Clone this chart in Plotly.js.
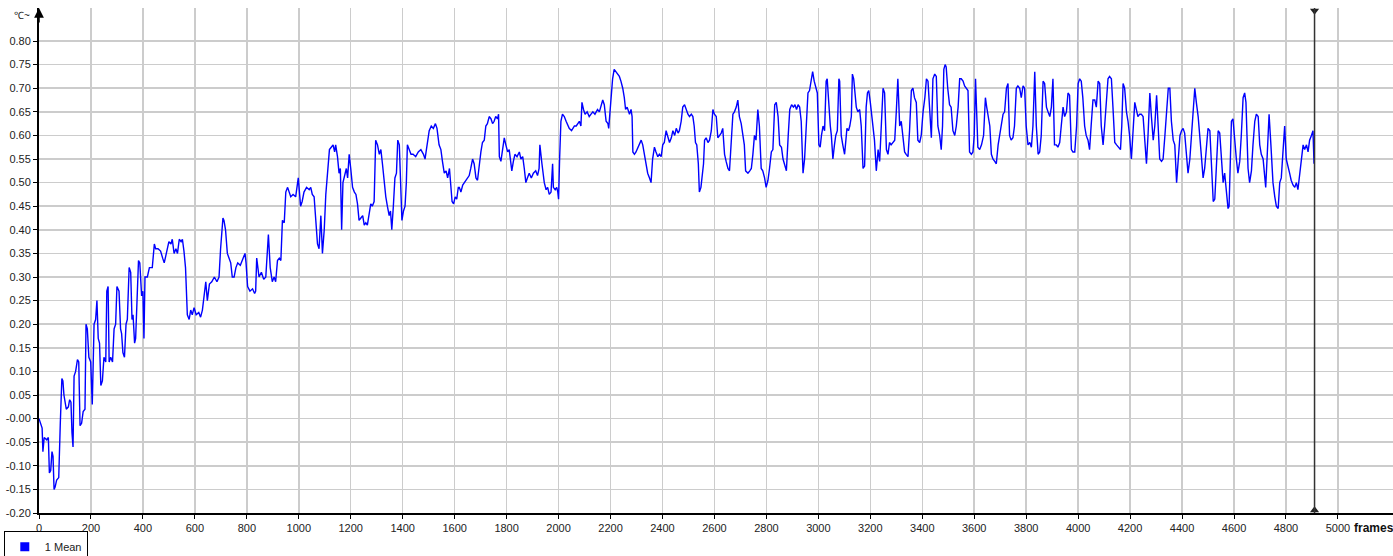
<!DOCTYPE html>
<html>
<head>
<meta charset="utf-8">
<script src="https://cdn.plot.ly/plotly-3.0.1.min.js"></script>
<style>html,body{margin:0;padding:0;background:#fff;}#chart{width:1393px;height:556px;}</style>
</head>
<body>
<div id="chart"></div>
<script>
// Frames (x) and mean temperature (°C)
const frames = [0,6,12,15,20,30,36,40,45,50,54,58,62,68,76,82,88,92,96,105,113,118,123,127,131,135,141,148,153,158,164,170,177,181,186,192,199,205,212,218,223,228,233,238,244,250,257,261,266,270,276,283,289,295,300,308,314,318,323,329,335,340,347,353,358,362,368,372,378,383,388,395,400,404,408,417,425,436,444,449,458,468,476,482,488,500,508,513,520,527,533,540,547,552,558,564,571,578,584,590,597,605,615,622,629,636,642,648,656,665,675,685,693,699,708,712,718,725,731,738,744,751,758,765,775,785,793,797,803,812,822,830,834,838,847,856,865,873,883,890,898,905,911,918,925,931,937,944,950,957,963,969,978,988,998,1003,1007,1013,1020,1030,1040,1046,1052,1059,1066,1072,1078,1085,1091,1098,1104,1111,1118,1125,1132,1138,1142,1149,1155,1160,1165,1170,1177,1183,1188,1194,1200,1207,1214,1220,1226,1232,1239,1246,1252,1258,1264,1271,1277,1283,1290,1296,1303,1310,1316,1322,1329,1335,1341,1348,1353,1358,1364,1370,1376,1381,1387,1392,1397,1403,1409,1414,1418,1425,1432,1440,1450,1460,1470,1480,1486,1490,1496,1502,1510,1518,1526,1532,1540,1547,1553,1560,1567,1573,1580,1585,1590,1596,1602,1608,1614,1618,1624,1631,1637,1645,1650,1656,1662,1669,1675,1682,1688,1695,1701,1707,1714,1720,1726,1733,1740,1746,1752,1758,1765,1769,1772,1778,1784,1791,1797,1804,1810,1815,1820,1826,1832,1840,1849,1855,1862,1868,1874,1880,1887,1895,1903,1912,1919,1925,1928,1936,1945,1952,1958,1964,1971,1977,1980,1987,1993,1997,2000,2004,2009,2015,2022,2029,2035,2041,2050,2061,2068,2074,2080,2086,2090,2096,2102,2110,2118,2125,2132,2140,2150,2157,2163,2170,2176,2183,2190,2193,2198,2202,2208,2214,2220,2226,2234,2240,2247,2253,2258,2264,2273,2279,2283,2286,2292,2298,2305,2311,2318,2324,2330,2337,2343,2350,2356,2362,2369,2375,2382,2388,2395,2401,2407,2414,2420,2427,2434,2440,2447,2453,2460,2465,2472,2478,2485,2491,2498,2504,2511,2517,2522,2527,2532,2538,2542,2548,2553,2558,2562,2568,2575,2581,2588,2594,2600,2607,2613,2620,2626,2632,2639,2645,2652,2658,2665,2671,2677,2684,2690,2696,2703,2709,2715,2720,2729,2736,2742,2748,2754,2760,2767,2773,2780,2786,2793,2799,2806,2812,2819,2825,2832,2838,2845,2851,2858,2864,2870,2877,2884,2890,2897,2904,2910,2916,2922,2928,2934,2941,2947,2953,2960,2966,2972,2978,2984,2990,2996,3002,3007,3012,3018,3024,3030,3034,3040,3046,3050,3056,3062,3067,3073,3079,3082,3088,3094,3101,3106,3110,3116,3121,3127,3131,3136,3142,3146,3152,3159,3165,3172,3178,3184,3189,3194,3200,3206,3210,3216,3223,3230,3236,3243,3249,3255,3262,3268,3274,3280,3287,3294,3300,3306,3313,3319,3325,3332,3338,3345,3351,3358,3364,3370,3377,3383,3390,3396,3403,3410,3416,3422,3428,3435,3441,3448,3454,3460,3467,3473,3478,3483,3488,3492,3498,3505,3511,3518,3525,3531,3538,3544,3550,3557,3563,3569,3576,3582,3589,3595,3600,3605,3610,3614,3621,3628,3636,3643,3648,3653,3660,3666,3672,3679,3685,3692,3698,3704,3711,3717,3724,3730,3736,3742,3749,3755,3762,3768,3775,3781,3788,3794,3800,3807,3814,3820,3826,3833,3839,3846,3852,3858,3865,3871,3878,3884,3891,3897,3903,3909,3916,3922,3929,3935,3942,3948,3955,3961,3967,3974,3980,3987,3994,4000,4006,4012,4018,4025,4031,4038,4044,4050,4057,4064,4070,4077,4083,4089,4096,4102,4108,4115,4121,4128,4134,4141,4148,4154,4163,4168,4173,4179,4186,4192,4198,4205,4211,4218,4224,4230,4237,4243,4250,4256,4263,4269,4276,4282,4289,4295,4302,4308,4314,4321,4327,4334,4340,4347,4353,4359,4366,4372,4379,4385,4392,4398,4404,4410,4417,4423,4430,4436,4442,4449,4455,4462,4468,4474,4481,4487,4494,4500,4507,4513,4520,4526,4532,4539,4545,4552,4558,4564,4570,4577,4581,4586,4590,4596,4603,4609,4615,4622,4628,4635,4641,4646,4650,4654,4660,4667,4673,4680,4686,4693,4699,4705,4712,4718,4722,4728,4735,4742,4750,4757,4763,4770,4776,4782,4788,4795,4801,4808,4814,4820,4827,4834,4840,4846,4853,4859,4866,4872,4879,4885,4891,4898,4904,4908];
const meanTemp = [0.00,-0.01,-0.02,-0.07,-0.04,-0.045,-0.04,-0.115,-0.11,-0.07,-0.08,-0.15,-0.145,-0.13,-0.125,-0.01,0.085,0.08,0.05,0.02,0.025,0.04,0.035,-0.03,-0.06,0.09,0.10,0.125,0.12,-0.015,-0.01,0.015,0.02,0.20,0.19,0.13,0.12,0.03,0.20,0.21,0.25,0.17,0.16,0.07,0.08,0.13,0.12,0.27,0.28,0.12,0.13,0.12,0.19,0.20,0.28,0.27,0.19,0.18,0.14,0.13,0.20,0.21,0.32,0.31,0.21,0.22,0.16,0.17,0.25,0.335,0.33,0.26,0.27,0.17,0.30,0.30,0.32,0.32,0.37,0.36,0.36,0.355,0.34,0.33,0.345,0.375,0.37,0.38,0.35,0.36,0.35,0.38,0.375,0.38,0.355,0.32,0.22,0.21,0.23,0.22,0.235,0.22,0.225,0.215,0.23,0.26,0.29,0.25,0.285,0.29,0.30,0.29,0.30,0.36,0.425,0.42,0.40,0.35,0.34,0.33,0.30,0.30,0.32,0.33,0.325,0.34,0.35,0.33,0.28,0.27,0.275,0.265,0.27,0.34,0.30,0.31,0.295,0.30,0.39,0.32,0.29,0.30,0.29,0.335,0.34,0.335,0.42,0.415,0.48,0.49,0.48,0.47,0.475,0.47,0.51,0.48,0.45,0.46,0.48,0.49,0.485,0.49,0.475,0.47,0.41,0.37,0.36,0.43,0.35,0.40,0.475,0.53,0.57,0.575,0.58,0.565,0.58,0.555,0.52,0.53,0.40,0.50,0.52,0.53,0.51,0.56,0.53,0.49,0.48,0.475,0.455,0.42,0.425,0.43,0.41,0.415,0.41,0.44,0.455,0.45,0.46,0.59,0.58,0.56,0.57,0.54,0.50,0.47,0.45,0.43,0.44,0.40,0.45,0.51,0.52,0.59,0.58,0.49,0.42,0.44,0.45,0.50,0.58,0.57,0.56,0.56,0.555,0.565,0.57,0.56,0.55,0.565,0.59,0.61,0.62,0.615,0.625,0.615,0.58,0.57,0.545,0.52,0.525,0.51,0.53,0.50,0.46,0.455,0.47,0.465,0.49,0.49,0.48,0.495,0.50,0.505,0.51,0.515,0.53,0.55,0.54,0.51,0.505,0.54,0.565,0.585,0.59,0.62,0.625,0.64,0.635,0.625,0.63,0.64,0.635,0.645,0.555,0.545,0.57,0.595,0.58,0.565,0.57,0.55,0.525,0.545,0.56,0.555,0.565,0.55,0.555,0.53,0.50,0.51,0.52,0.51,0.52,0.525,0.515,0.53,0.58,0.54,0.50,0.485,0.49,0.475,0.48,0.54,0.49,0.485,0.49,0.48,0.465,0.55,0.63,0.645,0.64,0.63,0.62,0.615,0.61,0.62,0.62,0.625,0.63,0.62,0.67,0.655,0.645,0.65,0.64,0.645,0.65,0.645,0.655,0.65,0.66,0.675,0.665,0.63,0.625,0.615,0.65,0.68,0.72,0.74,0.735,0.73,0.725,0.715,0.70,0.68,0.655,0.66,0.645,0.655,0.64,0.565,0.56,0.565,0.575,0.58,0.59,0.58,0.56,0.545,0.52,0.51,0.50,0.55,0.575,0.565,0.555,0.56,0.555,0.58,0.585,0.61,0.60,0.585,0.595,0.61,0.60,0.615,0.605,0.61,0.63,0.66,0.665,0.655,0.645,0.64,0.645,0.64,0.62,0.585,0.58,0.54,0.48,0.49,0.51,0.54,0.59,0.595,0.585,0.59,0.61,0.655,0.645,0.64,0.595,0.60,0.605,0.615,0.56,0.545,0.53,0.525,0.58,0.645,0.65,0.66,0.675,0.64,0.625,0.60,0.58,0.525,0.52,0.525,0.53,0.56,0.60,0.59,0.655,0.62,0.53,0.525,0.51,0.49,0.505,0.53,0.565,0.57,0.665,0.67,0.64,0.58,0.575,0.55,0.54,0.525,0.60,0.655,0.665,0.66,0.665,0.655,0.665,0.66,0.63,0.52,0.55,0.61,0.69,0.695,0.72,0.735,0.715,0.70,0.69,0.58,0.575,0.60,0.62,0.61,0.715,0.72,0.66,0.62,0.60,0.55,0.58,0.60,0.61,0.72,0.715,0.60,0.58,0.56,0.59,0.615,0.61,0.62,0.64,0.73,0.72,0.68,0.66,0.65,0.655,0.62,0.53,0.535,0.66,0.69,0.695,0.67,0.64,0.61,0.59,0.525,0.57,0.545,0.62,0.70,0.69,0.57,0.56,0.585,0.58,0.585,0.59,0.65,0.72,0.62,0.63,0.60,0.565,0.56,0.555,0.61,0.695,0.70,0.68,0.67,0.59,0.585,0.60,0.65,0.68,0.72,0.715,0.66,0.595,0.72,0.73,0.725,0.62,0.60,0.57,0.62,0.74,0.75,0.745,0.70,0.665,0.66,0.61,0.60,0.62,0.66,0.72,0.72,0.715,0.705,0.70,0.695,0.565,0.56,0.565,0.60,0.72,0.65,0.575,0.57,0.58,0.60,0.68,0.66,0.64,0.62,0.56,0.55,0.545,0.54,0.58,0.60,0.62,0.645,0.65,0.70,0.71,0.60,0.59,0.595,0.62,0.70,0.705,0.70,0.68,0.705,0.70,0.62,0.58,0.585,0.575,0.62,0.735,0.62,0.56,0.565,0.60,0.715,0.71,0.66,0.65,0.64,0.66,0.72,0.58,0.58,0.575,0.585,0.62,0.66,0.64,0.65,0.69,0.685,0.57,0.565,0.565,0.62,0.71,0.72,0.715,0.68,0.62,0.60,0.59,0.57,0.62,0.675,0.675,0.66,0.715,0.71,0.62,0.58,0.62,0.67,0.72,0.725,0.72,0.66,0.585,0.58,0.575,0.57,0.62,0.71,0.70,0.65,0.63,0.60,0.55,0.60,0.67,0.655,0.64,0.645,0.645,0.64,0.60,0.54,0.60,0.69,0.64,0.59,0.62,0.685,0.62,0.55,0.545,0.55,0.60,0.64,0.70,0.70,0.63,0.59,0.58,0.50,0.55,0.60,0.61,0.615,0.605,0.56,0.52,0.55,0.60,0.65,0.70,0.67,0.64,0.60,0.55,0.51,0.53,0.58,0.615,0.61,0.55,0.46,0.465,0.52,0.61,0.605,0.55,0.50,0.52,0.48,0.445,0.45,0.55,0.63,0.635,0.58,0.55,0.52,0.545,0.60,0.68,0.69,0.67,0.60,0.53,0.50,0.525,0.58,0.63,0.645,0.64,0.58,0.56,0.55,0.52,0.49,0.56,0.645,0.58,0.50,0.47,0.45,0.445,0.50,0.51,0.56,0.62,0.55,0.53,0.52,0.505,0.495,0.49,0.50,0.485,0.52,0.54,0.58,0.57,0.58,0.565,0.59,0.60,0.61,0.54];

const yTickVals = [-0.20,-0.15,-0.10,-0.05,0.00,0.05,0.10,0.15,0.20,0.25,0.30,0.35,0.40,0.45,0.50,0.55,0.60,0.65,0.70,0.75,0.80];
const yTickText = ['-0.20','-0.15','-0.10','-0.05','-0.00','0.05','0.10','0.15','0.20','0.25','0.30','0.35','0.40','0.45','0.50','0.55','0.60','0.65','0.70','0.75','0.80'];
const xTickVals = [0,200,400,600,800,1000,1200,1400,1600,1800,2000,2200,2400,2600,2800,3000,3200,3400,3600,3800,4000,4200,4400,4600,4800,5000];
const seriesName = '1 Mean';
const cursorFrame = 4910;
const yMin = -0.20, yMax = 0.87;

const FONT = 'Liberation Sans, Arial, sans-serif';

const traces = [
  {
    x: frames, y: meanTemp, type: 'scatter', mode: 'lines',
    line: {color: '#0000ff', width: 1.4},
    name: seriesName, showlegend: false, hoverinfo: 'skip'
  },
  {
    x: [null], y: [null], type: 'scatter', mode: 'markers',
    marker: {symbol: 'square', color: '#0000ff', size: 9},
    name: seriesName, showlegend: true
  },
  {
    x: [cursorFrame, cursorFrame], y: [yMax - 0.006, yMin + 0.006],
    type: 'scatter', mode: 'markers', cliponaxis: false,
    marker: {symbol: ['triangle-down', 'triangle-up'], color: '#222', size: 8},
    showlegend: false, hoverinfo: 'skip'
  }
];

const layout = {
  width: 1393, height: 556,
  margin: {l: 39, r: 0, t: 8, b: 43, pad: 0, autoexpand: false},
  paper_bgcolor: '#ffffff', plot_bgcolor: '#ffffff',
  font: {family: FONT, size: 11, color: '#222'},
  xaxis: {
    range: [0, 5212], tickvals: xTickVals, ticktext: xTickVals.map(String),
    showgrid: true, gridcolor: '#cccccc', gridwidth: 1.5,
    zeroline: false, showline: true, linecolor: '#000', linewidth: 1.5,
    ticks: 'outside', ticklen: 4, tickcolor: '#000', tickwidth: 1,
    tickfont: {family: FONT, size: 11, color: '#222'}, fixedrange: true, automargin: false
  },
  yaxis: {
    range: [yMin, yMax], tickvals: yTickVals, ticktext: yTickText,
    showgrid: true, gridcolor: '#cccccc', gridwidth: 1.5,
    zeroline: false, showline: true, linecolor: '#000', linewidth: 2,
    ticks: 'outside', ticklen: 4, tickcolor: '#000', tickwidth: 1,
    tickfont: {family: FONT, size: 11, color: '#222'}, fixedrange: true, automargin: false
  },
  shapes: [
    {type: 'line', xref: 'x', yref: 'paper', x0: cursorFrame, x1: cursorFrame, y0: 0, y1: 1,
     line: {color: '#333', width: 1.5}}
  ],
  annotations: [
    {xref: 'paper', yref: 'paper', x: 0, y: 1, ax: 0, ay: 16, axref: 'pixel', ayref: 'pixel',
     showarrow: true, arrowhead: 2, arrowsize: 1.3, arrowwidth: 1.5, arrowcolor: '#000', text: ''},
    {xref: 'paper', yref: 'paper', x: -0.005, y: 0.985, xanchor: 'right', yanchor: 'middle',
     text: '℃~', showarrow: false, font: {family: FONT, size: 10, color: '#222'}},
    {xref: 'paper', yref: 'paper', x: 0.97, y: 0, yshift: -15, xanchor: 'left', yanchor: 'middle',
     text: '<b>frames</b>', showarrow: false, font: {family: FONT, size: 12, color: '#111'}}
  ],
  showlegend: true,
  legend: {
    x: -0.026, y: -0.036, xanchor: 'left', yanchor: 'top',
    bgcolor: '#fff', bordercolor: '#000', borderwidth: 1,
    font: {family: FONT, size: 11, color: '#222'},
    itemwidth: 30, tracegroupgap: 0
  }
};

Plotly.newPlot('chart', traces, layout, {staticPlot: true, displayModeBar: false});
</script>
</body>
</html>
